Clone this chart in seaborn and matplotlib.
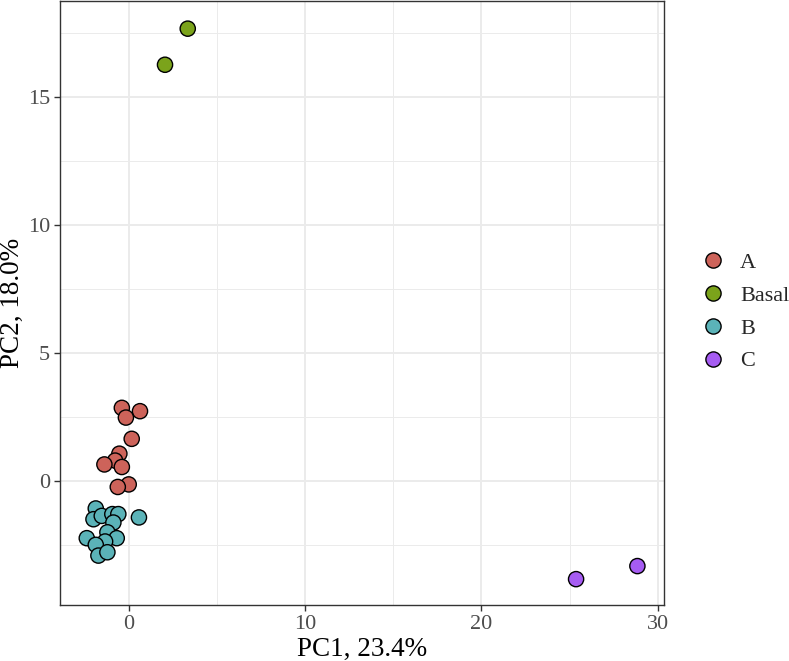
import pandas as pd
import seaborn as sns
import matplotlib.pyplot as plt
from matplotlib.ticker import MultipleLocator

# PCA scores
pc1_a = [-0.41, 0.62, -0.18, 0.15, -0.55, -0.79, -1.40, -0.41, -0.02, -0.64]
pc2_a = [2.86, 2.73, 2.48, 1.65, 1.07, 0.80, 0.65, 0.55, -0.13, -0.23]
pc1_basal = [3.33, 2.04]
pc2_basal = [17.67, 16.26]
pc1_b = [-1.89, -2.02, -1.55, -0.95, -0.61, -0.89, 0.56, -1.23, -2.40, -0.70, -1.36, -1.89, -1.74, -1.23]
pc2_b = [-1.07, -1.49, -1.36, -1.29, -1.29, -1.62, -1.42, -2.00, -2.23, -2.23, -2.36, -2.49, -2.91, -2.78]
pc1_c = [25.37, 28.85]
pc2_c = [-3.83, -3.32]

groups = ['A', 'Basal', 'B', 'C']
colors = ['#CD635A', '#7BA31B', '#5BB3B8', '#A65CF2']

df = pd.concat([
    pd.DataFrame({'PC1': pc1_a, 'PC2': pc2_a, 'group': 'A'}),
    pd.DataFrame({'PC1': pc1_basal, 'PC2': pc2_basal, 'group': 'Basal'}),
    pd.DataFrame({'PC1': pc1_b, 'PC2': pc2_b, 'group': 'B'}),
    pd.DataFrame({'PC1': pc1_c, 'PC2': pc2_c, 'group': 'C'}),
], ignore_index=True)

sns.set_style('white')
plt.rcParams['font.family'] = ['Liberation Serif', 'DejaVu Serif']

fig = plt.figure(figsize=(7.89, 6.61), dpi=100)
ax = fig.add_axes([60 / 789, 56 / 661, 604 / 789, 604 / 661])

sns.scatterplot(data=df, x='PC1', y='PC2', hue='group', hue_order=groups,
                palette=colors, s=120, edgecolor='black', linewidth=1.0,
                ax=ax, zorder=3)

ax.set_xlim(-3.92, 30.36)
ax.set_ylim(-4.84, 18.75)
ax.xaxis.set_major_locator(MultipleLocator(10))
ax.xaxis.set_minor_locator(MultipleLocator(5))
ax.yaxis.set_major_locator(MultipleLocator(5))
ax.yaxis.set_minor_locator(MultipleLocator(2.5))
ax.grid(which='major', color='#EBEBEB', linewidth=1.4, zorder=0)
ax.grid(which='minor', color='#EBEBEB', linewidth=0.7, zorder=0)
ax.set_axisbelow(True)
for sp in ax.spines.values():
    sp.set_color('#333333')
    sp.set_linewidth(1.0)
ax.tick_params(which='major', direction='out', length=4, width=1, color='#333333',
               labelsize=16, labelcolor='#4D4D4D', bottom=True, left=True, pad=3)
ax.tick_params(which='minor', length=0)
ax.set_xlabel('PC1, 23.4%', fontsize=19.5, color='black', labelpad=2)
ax.set_ylabel('PC2, 18.0%', fontsize=19.5, color='black')
ax.yaxis.set_label_coords(-0.058, 0.5)

handles, labels = ax.get_legend_handles_labels()
ax.legend(handles, labels, loc='center left', bbox_to_anchor=(689 / 789, 1 - 312 / 661),
          bbox_transform=fig.transFigure, frameon=False, fontsize=16,
          handletextpad=0.6, labelspacing=0.55, markerscale=1.0, borderpad=0,
          handlelength=1.2)

fig.savefig('out.png', dpi=100)
